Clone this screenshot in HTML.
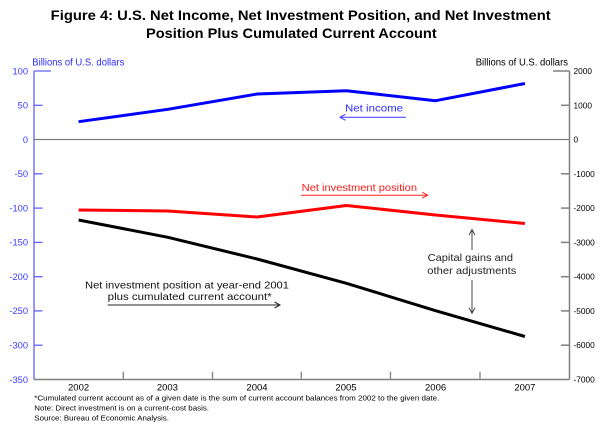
<!DOCTYPE html>
<html>
<head>
<meta charset="utf-8">
<style>
  html, body { margin:0; padding:0; background:#fff; }
  svg { display:block; }
  text { font-family: "Liberation Sans", Arial, sans-serif; }
</style>
</head>
<body>
<svg width="600" height="428" viewBox="0 0 600 428" xmlns="http://www.w3.org/2000/svg">
  <rect width="600" height="428" fill="#fff"/>

  <!-- Title -->
  <text x="50.7" y="20" font-size="14" font-weight="bold" fill="#000" textLength="500" lengthAdjust="spacingAndGlyphs">Figure 4:  U.S. Net Income, Net Investment Position, and Net Investment</text>
  <text x="146" y="38" font-size="14" font-weight="bold" fill="#000" textLength="290.7" lengthAdjust="spacingAndGlyphs">Position Plus Cumulated Current Account</text>

  <!-- Axis titles -->
  <text x="32.3" y="65.5" font-size="10" fill="#2a2aff" textLength="92" lengthAdjust="spacingAndGlyphs">Billions of U.S. dollars</text>
  <text x="475.7" y="65.5" font-size="10" fill="#000" textLength="92.3" lengthAdjust="spacingAndGlyphs">Billions of U.S. dollars</text>

  <!-- Zero line -->
  <line x1="34" y1="139.5" x2="569.5" y2="139.5" stroke="#808080" stroke-width="1.3"/>

  <!-- Bottom axis -->
  <line x1="34" y1="379.5" x2="569.5" y2="379.5" stroke="#808080" stroke-width="1.5"/>
  <g stroke="#808080" stroke-width="1.3">
    <line x1="123.3" y1="371.7" x2="123.3" y2="379.5"/>
    <line x1="212.5" y1="371.7" x2="212.5" y2="379.5"/>
    <line x1="301.3" y1="371.7" x2="301.3" y2="379.5"/>
    <line x1="390.5" y1="371.7" x2="390.5" y2="379.5"/>
    <line x1="480" y1="371.7" x2="480" y2="379.5"/>
  </g>

  <!-- Left axis -->
  <g stroke="#6060ff" stroke-width="1.3">
    <line x1="34" y1="71" x2="34" y2="379.5"/>
    <line x1="34" y1="71" x2="51" y2="71"/>
    <line x1="34" y1="105.3" x2="42.5" y2="105.3"/>
    <line x1="34" y1="173.8" x2="42.5" y2="173.8"/>
    <line x1="34" y1="208.1" x2="42.5" y2="208.1"/>
    <line x1="34" y1="242.4" x2="42.5" y2="242.4"/>
    <line x1="34" y1="276.7" x2="42.5" y2="276.7"/>
    <line x1="34" y1="310.9" x2="42.5" y2="310.9"/>
    <line x1="34" y1="345.2" x2="42.5" y2="345.2"/>
  </g>
  <g font-size="9.3" fill="#3a3aff" text-anchor="end">
    <text x="28" y="74.3">100</text>
    <text x="28" y="108.6">50</text>
    <text x="28" y="142.9">0</text>
    <text x="28" y="177.1">-50</text>
    <text x="28" y="211.4">-100</text>
    <text x="28" y="245.7">-150</text>
    <text x="28" y="280">-200</text>
    <text x="28" y="314.2">-250</text>
    <text x="28" y="348.5">-300</text>
    <text x="28" y="382.8">-350</text>
  </g>

  <!-- Right axis -->
  <g stroke="#808080" stroke-width="1.5">
    <line x1="569.5" y1="71" x2="569.5" y2="379.5"/>
    <line x1="553" y1="71" x2="569.5" y2="71"/>
    <line x1="561" y1="105.3" x2="569.5" y2="105.3"/>
    <line x1="561" y1="173.8" x2="569.5" y2="173.8"/>
    <line x1="561" y1="208.1" x2="569.5" y2="208.1"/>
    <line x1="561" y1="242.4" x2="569.5" y2="242.4"/>
    <line x1="561" y1="276.7" x2="569.5" y2="276.7"/>
    <line x1="561" y1="310.9" x2="569.5" y2="310.9"/>
    <line x1="561" y1="345.2" x2="569.5" y2="345.2"/>
  </g>
  <g font-size="8.3" fill="#000">
    <text x="573.5" y="74">2000</text>
    <text x="573.5" y="108.3">1000</text>
    <text x="573.5" y="142.6">0</text>
    <text x="573.5" y="176.8">-1000</text>
    <text x="573.5" y="211.1">-2000</text>
    <text x="573.5" y="245.4">-3000</text>
    <text x="573.5" y="279.7">-4000</text>
    <text x="573.5" y="313.9">-5000</text>
    <text x="573.5" y="348.2">-6000</text>
    <text x="573.5" y="382.5">-7000</text>
  </g>

  <!-- Year labels -->
  <g font-size="9.5" fill="#000" text-anchor="middle">
    <text x="78.6" y="390.3">2002</text>
    <text x="167.4" y="390.3">2003</text>
    <text x="257" y="390.3">2004</text>
    <text x="346" y="390.3">2005</text>
    <text x="435.6" y="390.3">2006</text>
    <text x="524.9" y="390.3">2007</text>
  </g>

  <!-- Series -->
  <polyline fill="none" stroke="#0000ff" stroke-width="3" stroke-linejoin="round"
    points="78.6,121.7 167.9,109.3 257.1,94 346.4,90.7 435.6,100.7 524.9,83.5"/>
  <polyline fill="none" stroke="#ff0000" stroke-width="3" stroke-linejoin="round"
    points="78.6,210 167.9,211 257.1,217 346.4,205.5 435.6,215 524.9,223.5"/>
  <polyline fill="none" stroke="#000" stroke-width="3" stroke-linejoin="round"
    points="78.6,220 167.9,237.3 257.1,259 346.4,283.3 435.6,310.7 524.9,336.5"/>

  <!-- Net income annotation -->
  <text x="345" y="111.5" font-size="10.5" fill="#2a2aff" textLength="58" lengthAdjust="spacingAndGlyphs">Net income</text>
  <g stroke="#3a3aff" stroke-width="1" fill="none">
    <line x1="340" y1="117.3" x2="406" y2="117.3"/>
    <polyline points="345.5,114.3 340,117.3 345.5,120.3"/>
  </g>

  <!-- Net investment position annotation -->
  <text x="301.7" y="191.2" font-size="10.5" fill="#ff1a1a" textLength="115.3" lengthAdjust="spacingAndGlyphs">Net investment position</text>
  <g stroke="#ff2020" stroke-width="1" fill="none">
    <line x1="301" y1="195.2" x2="427.7" y2="195.2"/>
    <polyline points="422.2,192.2 427.7,195.2 422.2,198.2"/>
  </g>

  <!-- Capital gains annotation -->
  <text x="427.7" y="260.8" font-size="10.5" fill="#222" textLength="85.3" lengthAdjust="spacingAndGlyphs">Capital gains and</text>
  <text x="427.3" y="274.2" font-size="10.5" fill="#222" textLength="89" lengthAdjust="spacingAndGlyphs">other adjustments</text>
  <g stroke="#444" stroke-width="1" fill="none">
    <line x1="472" y1="229.5" x2="472" y2="250"/>
    <polyline points="469,235 472,229.5 475,235"/>
    <line x1="472" y1="280" x2="472" y2="313.3"/>
    <polyline points="469,307.8 472,313.3 475,307.8"/>
  </g>

  <!-- Net investment position at year-end annotation -->
  <text x="85" y="288.7" font-size="10.5" fill="#111" textLength="204" lengthAdjust="spacingAndGlyphs">Net investment position at year-end 2001</text>
  <text x="107.7" y="300.2" font-size="10.5" fill="#111" textLength="164" lengthAdjust="spacingAndGlyphs">plus cumulated current account*</text>
  <g stroke="#222" stroke-width="1" fill="none">
    <line x1="107.7" y1="305" x2="280" y2="305"/>
    <polyline points="274.5,302 280,305 274.5,308"/>
  </g>

  <!-- Footnotes -->
  <g font-size="7.6" fill="#000">
    <text x="34.3" y="400.5" textLength="405" lengthAdjust="spacingAndGlyphs">*Cumulated current account as of a given date is the sum of current account balances from 2002 to the given date.</text>
    <text x="34.3" y="410.5" textLength="174.7" lengthAdjust="spacingAndGlyphs">Note: Direct investment is on a current-cost basis.</text>
    <text x="34.3" y="420.5" textLength="134.7" lengthAdjust="spacingAndGlyphs">Source: Bureau of Economic Analysis.</text>
  </g>
</svg>
</body>
</html>
